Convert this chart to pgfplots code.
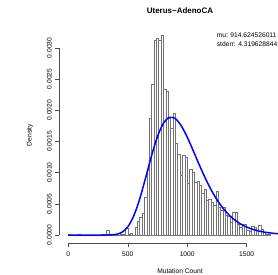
\documentclass[border=0pt]{standalone}
\usepackage{fontspec}
\setmainfont{Liberation Sans}
\usepackage{pgfplots}
\pgfplotsset{compat=1.18}
\begin{document}
\begin{tikzpicture}[x=1bp,y=1bp]
\useasboundingbox (0,0) rectangle (278,275);
\begin{axis}[
  at={(59.4bp,32bp)}, anchor=south west,
  width=218.6bp, height=215.7bp, scale only axis,
  xmin=-74.9, xmax=1763.7, ymin=-0.000128, ymax=0.003329,
  clip=false,
  axis line style={draw=none},
  xtick={0,500,1000,1500},
  ytick={0,0.0005,0.001,0.0015,0.002,0.0025,0.003},
  xtick pos=left, ytick pos=left,
  tick align=outside, major tick length=4.3bp,
  tick style={black!70, line width=0.5bp},
  scaled y ticks=false,
  /pgf/number format/assume math mode=true,
  ticklabel style={font=\fontsize{6.7}{8}\selectfont},
  yticklabel style={rotate=90, anchor=south, /pgf/number format/fixed, /pgf/number format/fixed zerofill, /pgf/number format/precision=4},
  xticklabel style={yshift=-1.5bp, /pgf/number format/1000 sep={}},
]
\addplot[black!70, line width=0.5bp] coordinates {(0,-0.000128) (1500,-0.000128)};
\addplot[black!70, line width=0.5bp] coordinates {(-74.9,0) (-74.9,0.003)};
\addplot[ybar interval, fill=white, draw=black!55, line width=0.4bp] coordinates {
(0,0.00002)(20,0)(40,0)(60,0)(80,0.00002)(100,0)(120,0)(140,0)(160,0)(180,0)
(200,0)(220,0)(240,0)(260,0)(280,0.00002)(300,0)(320,0.00007)(340,0)(360,0)(380,0)
(400,0)(420,0)(440,0.00002)(460,0.00002)(480,0.00011)(500,0.00002)(520,0.00003)(540,0)(560,0.00012)(580,0.00022)
(600,0.00028)(620,0.00035)(640,0.0006)(660,0.00104)(680,0.00187)(700,0.00241)(720,0.00313)(740,0.00315)(760,0.00313)(780,0.00321)
(800,0.00234)(820,0.0023)(840,0.00188)(860,0.00171)(880,0.00195)(900,0.00147)(920,0.0013)(940,0.00096)(960,0.00128)(980,0.00125)
(1000,0.00083)(1020,0.00106)(1040,0.00101)(1060,0.00084)(1080,0.00087)(1100,0.0008)(1120,0.00067)(1140,0.00074)(1160,0.00055)(1180,0.00058)
(1200,0.00053)(1220,0.00048)(1240,0.00071)(1260,0.00045)(1280,0.0004)(1300,0.00045)(1320,0.00032)(1340,0.0003)(1360,0.00021)(1380,0.00037)
(1400,0.00036)(1420,0.00018)(1440,0.00012)(1460,0.00018)(1480,0.00017)(1500,0.00008)(1520,0.00006)(1540,0.00014)(1560,0.00012)(1580,0.00008)
(1600,0.00016)(1620,0.00009)(1640,0.00004)(1660,0.00002)(1680,0.00002)(1700,0.00002)
};
\addplot[blue, line width=1.5bp, smooth] coordinates {
(0,0)(100,0)(200,0)(300,0.0000001)(350,0.0000013)(400,0.0000095)(450,0.0000422)(500,0.0001303)
(550,0.0003047)(600,0.0005745)(650,0.0009142)(700,0.0012694)(750,0.001578)(800,0.0017916)(850,0.0018867)
(900,0.0018657)(950,0.0017499)(1000,0.0015693)(1050,0.0013546)(1100,0.0011318)(1150,0.0009196)(1200,0.0007293)
(1250,0.0005664)(1300,0.0004321)(1350,0.0003246)(1400,0.0002404)(1450,0.000176)(1500,0.0001276)(1550,0.0000917)
(1600,0.0000653)(1650,0.0000462)(1700,0.0000326)(1750,0.0000228)(1800,0.0000159)
};
\end{axis}
\node[font=\bfseries\fontsize{8}{9.6}\selectfont] at (180,264.3) {Uterus−AdenoCA};
\node[rotate=90, font=\fontsize{6.7}{8}\selectfont] at (30,140) {Density};
\node[font=\fontsize{6.7}{8}\selectfont] at (180,3.9) {Mutation Count};
\node[anchor=west, inner sep=0, font=\fontsize{6.7}{8}\selectfont] at (216.7,240) {mu: 914.624526011};
\node[anchor=west, inner sep=0, font=\fontsize{6.7}{8}\selectfont] at (216.7,231) {stderr: 4.319628844};
\end{tikzpicture}
\end{document}
